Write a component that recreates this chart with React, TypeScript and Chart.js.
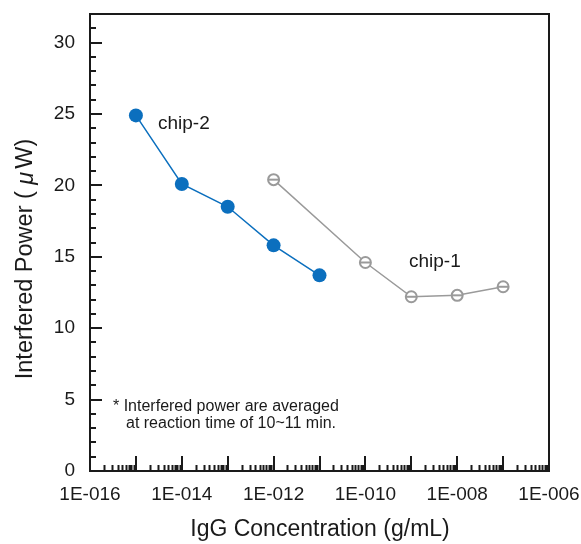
import React, { useEffect, useRef } from "react";
import { Chart, registerables } from "chart.js";

Chart.register(...registerables);

// ---- data ----
const chip2Concentrations = [1e-15, 1e-14, 1e-13, 1e-12, 1e-11];
const chip2Power = [24.9, 20.1, 18.5, 15.8, 13.7];
const chip1Concentrations = [1e-12, 1e-10, 1e-9, 1e-8, 1e-7];
const chip1Power = [20.4, 14.6, 12.2, 12.3, 12.9];
const xTickExponents = [-16, -15, -14, -13, -12, -11, -10, -9, -8, -7, -6];
const yTickValues = [0, 5, 10, 15, 20, 25, 30];

const FONT = "'Liberation Sans', Arial, Helvetica, sans-serif";
const BLUE = "#0b6fbe";
const GRAY = "#9a9a9a";
const INK = "#1a1a1a";

const fmtExp = (e: number) => "1E-0" + String(-e).padStart(2, "0");

const framePlugin = {
  id: "frameTicks",
  afterDraw(chart: any) {
    const { ctx, chartArea } = chart;
    const { left, right, top, bottom } = chartArea;
    const xs = chart.scales.x;
    const ys = chart.scales.y;
    ctx.save();
    ctx.strokeStyle = INK;
    ctx.lineWidth = 2;
    ctx.strokeRect(left, top, right - left, bottom - top);
    ctx.lineWidth = 2;
    ctx.beginPath();
    for (let v = 0; v <= 32; v++) {
      const y = Math.round(ys.getPixelForValue(v));
      const len = v % 5 === 0 ? 12 : 6;
      ctx.moveTo(left, y);
      ctx.lineTo(left + len, y);
    }
    for (let i = 0; i < xTickExponents.length - 1; i++) {
      const e = xTickExponents[i];
      const base = Math.pow(10, e);
      const xm = Math.round(xs.getPixelForValue(base));
      ctx.moveTo(xm, bottom);
      ctx.lineTo(xm, bottom - 15);
      for (let k = 2; k <= 9; k++) {
        const x = Math.round(xs.getPixelForValue(k * base)) + 0.5;
        ctx.moveTo(x, bottom);
        ctx.lineTo(x, bottom - 6);
      }
    }
    ctx.stroke();

    // annotations
    ctx.fillStyle = INK;
    ctx.textBaseline = "middle";
    ctx.textAlign = "left";
    ctx.font = `19px ${FONT}`;
    ctx.fillText("chip-2", 158, 124);
    ctx.fillText("chip-1", 409, 262);
    ctx.font = `16px ${FONT}`;
    ctx.fillText("* Interfered power are averaged", 113, 407);
    ctx.fillText("at reaction time of 10~11 min.", 126, 424);

    // x title
    ctx.font = `23px ${FONT}`;
    ctx.textAlign = "center";
    ctx.fillText("IgG Concentration (g/mL)", 320, 530);

    // y title with italic mu
    ctx.translate(26, 259);
    ctx.rotate(-Math.PI / 2);
    const p1 = "Interfered Power ( ";
    const p2 = "\u03BC";
    const p3 = "W)";
    const size = 23.5;
    ctx.font = `${size}px ${FONT}`;
    const w1 = ctx.measureText(p1).width;
    const w3 = ctx.measureText(p3).width;
    ctx.font = `italic ${size}px ${FONT}`;
    const w2 = ctx.measureText(p2).width + 3;
    const total = w1 + w2 + w3;
    const x0 = -total / 2;
    ctx.textAlign = "left";
    ctx.font = `${size}px ${FONT}`;
    ctx.fillText(p1, x0, 0);
    ctx.font = `italic ${size}px ${FONT}`;
    ctx.fillText(p2, x0 + w1, 0);
    ctx.font = `${size}px ${FONT}`;
    ctx.fillText(p3, x0 + w1 + w2, 0);
    ctx.restore();
  },
};

export default function App() {
  const ref = useRef<HTMLCanvasElement>(null);
  useEffect(() => {
    if (!ref.current) return;
    const chart = new Chart(ref.current, {
      type: "line",
      data: {
        datasets: [
          {
            label: "chip-1",
            order: 2,
            data: chip1Concentrations.map((c, i) => ({ x: c, y: chip1Power[i] })),
            borderColor: GRAY,
            backgroundColor: "#ffffff",
            borderWidth: 1.5,
            pointRadius: 5.5,
            pointBorderWidth: 2,
            pointBorderColor: GRAY,
            pointBackgroundColor: "#ffffff",
          },
          {
            label: "chip-1 bars",
            order: 1,
            data: chip1Concentrations.map((c, i) => ({ x: c, y: chip1Power[i] })),
            showLine: false,
            pointStyle: "line",
            pointRadius: 5.5,
            pointBorderWidth: 2,
            pointBorderColor: GRAY,
            borderColor: GRAY,
          },
          {
            label: "chip-2",
            order: 0,
            data: chip2Concentrations.map((c, i) => ({ x: c, y: chip2Power[i] })),
            borderColor: BLUE,
            backgroundColor: BLUE,
            borderWidth: 1.5,
            pointRadius: 7,
            pointBorderWidth: 0,
            pointBackgroundColor: BLUE,
          },
        ],
      },
      options: {
        responsive: false,
        animation: false,
        layout: { padding: { left: 0, top: 14, right: 32, bottom: 0 } },
        plugins: { legend: { display: false }, tooltip: { enabled: false } },
        scales: {
          x: {
            type: "logarithmic",
            min: 1e-16,
            max: 1e-6,
            grid: { display: false },
            border: { display: false },
            afterBuildTicks: (s: any) => {
              s.ticks = xTickExponents.map((e) => ({ value: Math.pow(10, e) }));
            },
            afterFit: (s: any) => {
              s.height = 73;
              s.paddingLeft = 0;
              s.paddingRight = 0;
            },
            ticks: {
              autoSkip: false,
              maxRotation: 0,
              minRotation: 0,
              padding: 4,
              color: INK,
              font: { family: FONT, size: 19 },
              callback: (v: any) => {
                const e = Math.round(Math.log10(Number(v)));
                return e % 2 === 0 ? fmtExp(e) : "";
              },
            },
          },
          y: {
            type: "linear",
            min: 0,
            max: 32,
            grid: { display: false },
            border: { display: false },
            afterBuildTicks: (s: any) => {
              s.ticks = yTickValues.map((v) => ({ value: v }));
            },
            afterFit: (s: any) => {
              s.width = 90;
              s.paddingTop = 0;
              s.paddingBottom = 0;
            },
            ticks: {
              padding: 7,
              color: INK,
              font: { family: FONT, size: 19 },
              callback: (v: any) => String(v),
            },
          },
        },
      },
      plugins: [framePlugin],
    });
    return () => chart.destroy();
  }, []);
  return (
    <div style={{ position: "fixed", left: 0, top: 0, width: 581, height: 544, background: "#fff" }}>
      <canvas ref={ref} width={581} height={544} />
    </div>
  );
}
